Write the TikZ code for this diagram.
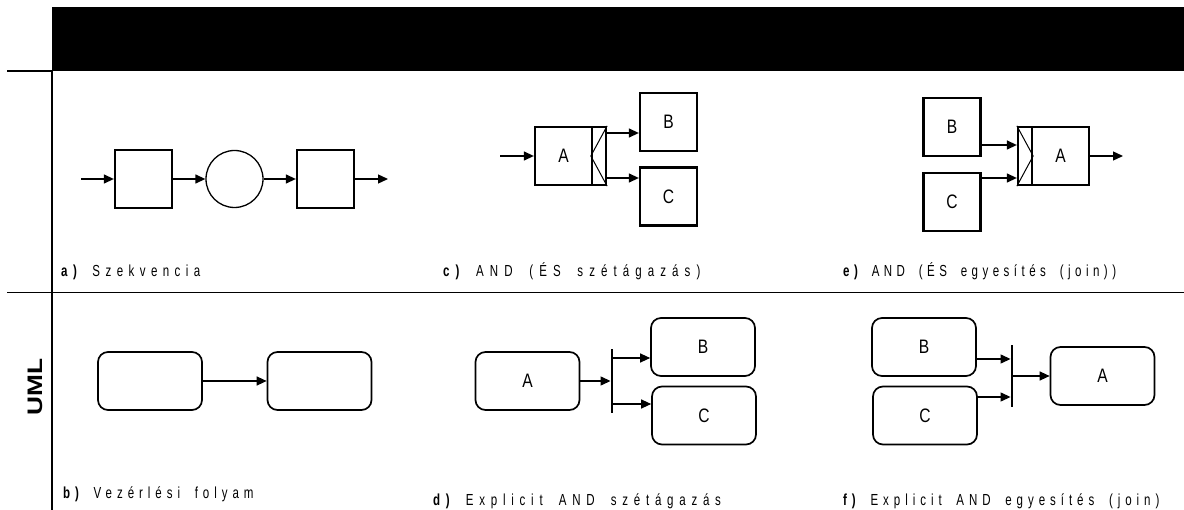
\documentclass[tikz,border=0pt]{standalone}
\usepackage{fontspec}
\setmainfont{Liberation Sans}
\newfontfamily\labfont[FakeStretch=0.72,LetterSpace=30,WordSpace=1.8]{Liberation Sans}
\newfontfamily\boxfont[FakeStretch=0.8]{Liberation Sans}
\newfontfamily\umlfont[FakeStretch=1.25]{Liberation Sans}
\usetikzlibrary{arrows.meta}
\tikzset{
  sqbox/.style={draw, line width=2.3pt, minimum width=57pt, minimum height=58pt, inner sep=0pt,
    font=\boxfont\fontsize{19.5}{19.5}\selectfont},
  rbox/.style={draw, line width=1.7pt, rounded corners=10pt, minimum width=104pt, minimum height=58pt,
    inner sep=0pt, font=\boxfont\fontsize{19.5}{19.5}\selectfont},
  barnode/.style={fill=black, minimum width=2.5pt, minimum height=64pt, inner sep=0pt},
  arr/.style={line width=1.3pt, -{Triangle[length=10pt,width=9pt]}},
  chev/.style={line width=1pt},
  frameline/.style={line width=1.2pt},
  lab/.style={anchor=base west, inner sep=0pt, font=\labfont\fontsize{16}{16}\selectfont},
  ls/.style={font=\labfont\addfontfeatures{LetterSpace=#1}\fontsize{16}{16}\selectfont},
}
\begin{document}
\begin{tikzpicture}[x=1pt,y=-1pt]
\useasboundingbox (0,0) rectangle (1184,510);
% frame
\fill[black] (52,7) rectangle (1184,71);
\draw[frameline] (7,71) -- (52,71);
\draw[frameline] (52,71) -- (52,510);
\draw[frameline] (7,292.5) -- (1184,292.5);
\node[rotate=90, inner sep=0pt, font=\umlfont\bfseries\fontsize{21}{21}\selectfont] (uml) at (35,387) {UML};

% a) sequence
\node[sqbox] (a1) at (143.5,179) {};
\node[circle, draw, line width=1.3pt, minimum size=57pt, inner sep=0pt] (a2) at (234.5,179) {};
\node[sqbox] (a3) at (325.5,179) {};
\coordinate (ain) at (81,179);
\coordinate (aout) at (388,179);
\draw[arr] (ain) -- (a1);
\draw[arr] (a1) -- (a2);
\draw[arr] (a2) -- (a3);
\draw[arr] (a3) -- (aout);
\node[lab, ls=34] (la) at (61,277) {{\bfseries a)} Szekvencia};

% c) AND split
\node[sqbox] (cA) at (563.5,156) {A};
\node[sqbox, minimum width=14pt] (cG) at (599,156) {};
\draw[chev] (cG.north east) -- (cG.west) -- (cG.south east);
\node[sqbox] (cB) at (668.5,122) {B};
\node[sqbox] (cC) at (668.5,196.5) {C};
\coordinate (cin) at (500,156);
\draw[arr] (cin) -- (cA);
\coordinate (c1) at ([yshift=23pt]cG.east);
\coordinate (c2) at ([yshift=-22pt]cG.east);
\draw[arr] (c1) -- (c1 -| cB.west);
\draw[arr] (c2) -- (c2 -| cC.west);
\node[lab, ls=38] (lc) at (443,277) {{\bfseries c)} AND (ÉS szétágazás)};

% e) AND join
\node[sqbox] (eB) at (952,127) {B};
\node[sqbox] (eC) at (952,202) {C};
\node[sqbox, minimum width=14pt] (eG) at (1025,156) {};
\draw[chev] (eG.north west) -- (eG.east) -- (eG.south west);
\node[sqbox] (eA) at (1060.5,156) {A};
\coordinate (e1) at ([yshift=11pt]eG.west);
\coordinate (e2) at ([yshift=-22pt]eG.west);
\draw[arr] (e1 -| eB.east) -- (e1);
\draw[arr] (e2 -| eC.east) -- (e2);
\coordinate (eout) at (1123,156);
\draw[arr] (eA) -- (eout);
\node[lab, ls=28] (le) at (843,277) {{\bfseries e)} AND (ÉS egyesítés (join))};

% b) UML control flow
\node[rbox] (b1) at (150,381) {};
\node[rbox] (b2) at (319.5,381) {};
\draw[arr] (b1) -- (b2);
\node[lab, ls=31] (lb) at (63,499) {{\bfseries b)} Vezérlési folyam};

% d) explicit AND split
\node[rbox] (dA) at (527.5,381) {A};
\node[barnode] (dBar) at (612,381) {};
\node[rbox] (dB) at (703,347) {B};
\node[rbox] (dC) at (704,415.5) {C};
\draw[arr] (dA) -- (dBar);
\coordinate (d1) at ([yshift=23pt]dBar.east);
\coordinate (d2) at ([yshift=-23pt]dBar.east);
\draw[arr] (d1) -- (d1 -| dB.west);
\draw[arr] (d2) -- (d2 -| dC.west);
\node[lab, ls=36] (ld) at (433,505) {{\bfseries d)} Explicit AND szétágazás};

% f) explicit AND join
\node[rbox] (fB) at (924,347) {B};
\node[rbox] (fC) at (925,415.5) {C};
\node[barnode, minimum height=62pt] (fBar) at (1012,376) {};
\node[rbox] (fA) at (1102.5,376) {A};
\coordinate (f1) at ([yshift=17pt]fBar.west);
\coordinate (f2) at ([yshift=-21pt]fBar.west);
\draw[arr] (f1 -| fB.east) -- (f1);
\draw[arr] (f2 -| fC.east) -- (f2);
\draw[arr] (fBar) -- (fA);
\node[lab, ls=31] (lf) at (843,505) {{\bfseries f)} Explicit AND egyesítés (join)};
\end{tikzpicture}
\end{document}
